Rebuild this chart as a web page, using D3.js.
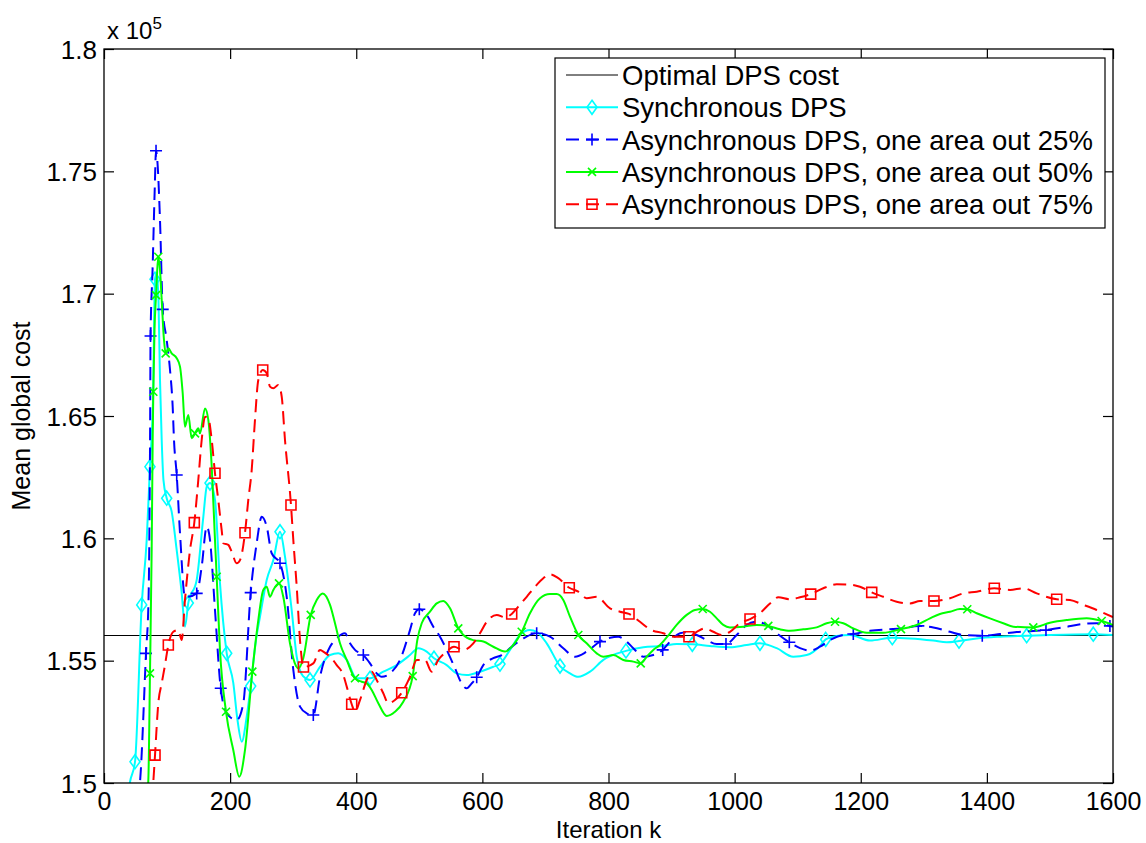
<!DOCTYPE html>
<html><head><meta charset="utf-8">
<script src="https://cdn.jsdelivr.net/npm/d3@7"></script>
<style>body{margin:0;background:#fff}svg{display:block}text{font-family:"Liberation Sans",Arial,Helvetica,sans-serif;fill:#000}</style>
</head><body>
<svg id="chart" width="1146" height="843"></svg>
<script>
// ---- data (cost in units of 1e5) ----
const iterTicks = [0,200,400,600,800,1000,1200,1400,1600];
const costTicks = [1.5,1.55,1.6,1.65,1.7,1.75,1.8];
const costTickLabels = ["1.5","1.55","1.6","1.65","1.7","1.75","1.8"];
const optimalCost = 1.5605;
const seriesNames = ["Optimal DPS cost","Synchronous DPS","Asynchronous DPS, one area out 25%","Asynchronous DPS, one area out 50%","Asynchronous DPS, one area out 75%"];

const syncData = [[38,1.4951],[41.2,1.5004],[49.2,1.5087],[59.8,1.5728],[67.7,1.5993],[72.9,1.6293],[77.7,1.6565],[80.9,1.7059],[83.6,1.7084],[86.4,1.6974],[88.8,1.6647],[91.5,1.6402],[94.3,1.6238],[99.4,1.6164],[107.3,1.6109],[115.3,1.5952],[123.2,1.5777],[128.4,1.5639],[133.7,1.5736],[147,1.5830],[157.5,1.6088],[162.9,1.6211],[168.1,1.6226],[176,1.6157],[183.9,1.5817],[194.6,1.5530],[205,1.5409],[211.7,1.5257],[218.4,1.5169],[226.3,1.5271],[232.6,1.5396],[241,1.5584],[247.4,1.5680],[258,1.5830],[268.5,1.5911],[279.1,1.6027],[287,1.5925],[297.6,1.5707],[305.6,1.5516],[315.6,1.5437],[326.7,1.5421],[342.5,1.5475],[358.4,1.5523],[371.5,1.5530],[384.9,1.5503],[400.7,1.5428],[421.8,1.5428],[442.9,1.5455],[464.1,1.5482],[485.2,1.5523],[498.4,1.5551],[511.7,1.5537],[523.3,1.5510],[543.4,1.5482],[559.3,1.5448],[575.1,1.5441],[596.2,1.5455],[617.3,1.5475],[627.9,1.5486],[643.8,1.5544],[659.7,1.5605],[675.5,1.5625],[686.1,1.5618],[702,1.5571],[723.1,1.5478],[738.9,1.5448],[752.1,1.5434],[770.7,1.5455],[791.8,1.5503],[827.7,1.5540],[855.2,1.5555],[886.9,1.5560],[908.1,1.5568],[932.9,1.5567],[960.9,1.5560],[992.6,1.5555],[1019.1,1.5564],[1040.2,1.5571],[1066.7,1.5551],[1093,1.5516],[1114.3,1.5523],[1135.4,1.5560],[1144.4,1.5587],[1161.8,1.5601],[1183,1.5605],[1214.7,1.5582],[1250,1.5594],[1278.1,1.5591],[1315,1.5582],[1336.3,1.5575],[1355.8,1.5580],[1383.9,1.5591],[1420.8,1.5598],[1463.1,1.5602],[1500,1.5605],[1568.7,1.5608],[1600,1.5605]];
const syncMarkerIters = [49.2,59.8,72.9,80.9,99.4,133.7,168.1,194.6,232.6,279.1,326.7,421.8,523.3,627.9,723.1,827.7,932.9,1040.2,1144.4,1250,1355.8,1463.1,1568.7];

const async25Data = [[53.9,1.4931],[57.1,1.5004],[66.6,1.5530],[70.6,1.5748],[72.4,1.6157],[73.2,1.6484],[73.8,1.6827],[77,1.7097],[80.4,1.7424],[82.5,1.7584],[84.5,1.7546],[88.8,1.7301],[93.1,1.6936],[99.4,1.6811],[104.7,1.6688],[108.9,1.6538],[111,1.6402],[115.3,1.6259],[120.5,1.6022],[128.4,1.5761],[132.1,1.5761],[147,1.5775],[154.9,1.5884],[162.9,1.6048],[168.1,1.5993],[176,1.5707],[185.1,1.5387],[194.6,1.5285],[210.4,1.5257],[220.9,1.5326],[232.6,1.5778],[242.1,1.5980],[250.1,1.6088],[258,1.6048],[265.9,1.5939],[279.1,1.5898],[289.7,1.5761],[300.2,1.5462],[310.8,1.5312],[321.4,1.5285],[331.9,1.5278],[342.5,1.5434],[358.4,1.5557],[366.3,1.5584],[382.2,1.5612],[390.1,1.5571],[398,1.5544],[411.2,1.5523],[421.8,1.5489],[432.4,1.5448],[440.4,1.5434],[453.5,1.5448],[469.4,1.5503],[485.2,1.5625],[493.2,1.5694],[500,1.5710],[511.7,1.5687],[522.2,1.5639],[532.8,1.5598],[546,1.5530],[556.6,1.5469],[567.2,1.5407],[575.1,1.5387],[583.1,1.5407],[591,1.5432],[601.5,1.5482],[617.3,1.5510],[630.6,1.5523],[646.5,1.5557],[664.9,1.5591],[686.1,1.5612],[707.2,1.5598],[728.3,1.5551],[746.9,1.5516],[765.4,1.5537],[786.5,1.5578],[802.4,1.5594],[815.5,1.5598],[826.2,1.5584],[839.3,1.5551],[855.2,1.5516],[871,1.5523],[885.9,1.5544],[897.5,1.5578],[913.4,1.5612],[926.5,1.5616],[939.9,1.5605],[955.7,1.5584],[971.6,1.5568],[986.3,1.5568],[1003.3,1.5605],[1019.1,1.5646],[1035,1.5659],[1050.8,1.5646],[1066.7,1.5612],[1086.7,1.5575],[1103.7,1.5551],[1119.5,1.5541],[1135.4,1.5557],[1151.2,1.5584],[1172.3,1.5605],[1188.2,1.5609],[1214.7,1.5622],[1241.1,1.5628],[1264.9,1.5631],[1291.3,1.5642],[1315,1.5636],[1341.5,1.5618],[1362.6,1.5605],[1392.7,1.5602],[1420.8,1.5609],[1447.3,1.5617],[1493.7,1.5625],[1521.2,1.5636],[1552.9,1.5650],[1574.1,1.5653],[1595.1,1.5642],[1600,1.5640]];
const async25MarkerIters = [66.6,73.8,82.5,93.1,115.3,147,185.1,232.6,279.1,331.9,411.2,500,591,686.1,786.5,885.9,986.3,1086.7,1188.2,1291.3,1392.7,1493.7,1595.1];

const async50Data = [[66.6,1.4931],[70.2,1.5005],[72.9,1.5448],[75.6,1.5952],[77.2,1.6402],[78.2,1.6599],[80.1,1.6851],[82.5,1.6994],[84,1.7076],[86.1,1.7151],[88.8,1.7097],[91.5,1.6974],[95.1,1.6811],[97.8,1.6756],[102,1.6777],[107.3,1.6756],[115.3,1.6736],[120.5,1.6702],[124.8,1.6593],[128.4,1.6456],[133.7,1.6504],[139.1,1.6409],[144.3,1.6429],[149.5,1.6450],[152.2,1.6429],[160.2,1.6531],[165.4,1.6484],[170.8,1.6293],[176,1.5993],[178.7,1.5843],[183.9,1.5544],[193.5,1.5291],[205,1.5135],[214.5,1.5026],[223.6,1.5135],[235.2,1.5455],[244.7,1.5666],[252.6,1.5789],[258,1.5802],[263.2,1.5761],[268.5,1.5789],[277.5,1.5816],[284.3,1.5761],[294.9,1.5571],[304.5,1.5478],[308.1,1.5469],[316,1.5510],[327.8,1.5687],[337.3,1.5748],[346.8,1.5775],[358.4,1.5728],[366.3,1.5653],[374.2,1.5571],[384.9,1.5503],[398,1.5428],[408.6,1.5414],[416.6,1.5407],[424.5,1.5380],[435,1.5326],[448.3,1.5274],[461.4,1.5291],[474.6,1.5332],[489.5,1.5437],[496.8,1.5584],[503.8,1.5653],[516.9,1.5700],[527.6,1.5734],[538,1.5744],[548.7,1.5714],[561.8,1.5632],[569.8,1.5605],[585.6,1.5584],[601.5,1.5578],[617.3,1.5557],[635.9,1.5537],[649,1.5564],[662.4,1.5618],[675.5,1.5694],[691.4,1.5755],[707.2,1.5772],[717.8,1.5772],[728.3,1.5748],[738.9,1.5680],[752.1,1.5605],[765.4,1.5571],[781.3,1.5530],[791.8,1.5516],[807.6,1.5523],[823.5,1.5503],[839.3,1.5496],[851.1,1.5489],[860.6,1.5516],[871,1.5544],[881.7,1.5564],[897.5,1.5612],[908.1,1.5646],[924,1.5687],[937.2,1.5707],[949.4,1.5711],[960.9,1.5700],[971.6,1.5673],[982,1.5646],[992.6,1.5636],[1013.7,1.5639],[1035,1.5646],[1053.4,1.5642],[1071.9,1.5628],[1087.8,1.5622],[1108.9,1.5628],[1130.1,1.5636],[1146,1.5653],[1159.2,1.5659],[1172.3,1.5653],[1188.2,1.5632],[1209.4,1.5614],[1235.8,1.5614],[1263.8,1.5629],[1288.7,1.5646],[1309.8,1.5673],[1325.6,1.5691],[1341.5,1.5700],[1357.3,1.5711],[1368.9,1.5710],[1383.9,1.5694],[1404.9,1.5673],[1426,1.5653],[1441.9,1.5639],[1473.6,1.5636],[1500,1.5655],[1526.6,1.5666],[1558.3,1.5673],[1582,1.5662],[1600,1.5646]];
const async50MarkerIters = [72.9,78.2,82.5,86.1,97.8,144.3,178.7,193.5,235.2,277.5,327.8,398,489.5,561.8,662.4,752.1,851.1,949.4,1053.4,1159.2,1263.8,1368.9,1473.6,1582];

const async75Data = [[76.1,1.4931],[78.2,1.5005],[80.9,1.5114],[86.1,1.5326],[91.5,1.5407],[96.7,1.5482],[102,1.5564],[109.9,1.5618],[117.8,1.5625],[123.2,1.5584],[128.4,1.5748],[136.4,1.5952],[143.2,1.6064],[149.5,1.6238],[154.9,1.6402],[160.2,1.6497],[165.4,1.6491],[170.8,1.6402],[176,1.6266],[181.2,1.6157],[186.6,1.6034],[189.2,1.5980],[197.1,1.5973],[202.5,1.5945],[210.4,1.5898],[215.7,1.5911],[223.6,1.6023],[228.8,1.6157],[234.2,1.6279],[239.4,1.6484],[244.7,1.6647],[251.7,1.6688],[258,1.6675],[263.2,1.6620],[268.5,1.6613],[276.4,1.6627],[281.8,1.6579],[287,1.6402],[296.5,1.6136],[300.2,1.5993],[305.6,1.5802],[310.8,1.5584],[316.3,1.5474],[331.9,1.5489],[342.5,1.5544],[347.7,1.5537],[358.4,1.5516],[369,1.5482],[379.5,1.5441],[384.9,1.5394],[392.8,1.5322],[398,1.5291],[405.9,1.5339],[416.6,1.5421],[424.5,1.5455],[432.4,1.5421],[442.9,1.5367],[450.8,1.5326],[461.4,1.5339],[472.1,1.5369],[485.2,1.5434],[495.9,1.5503],[509,1.5503],[519.6,1.5455],[530.1,1.5503],[542.3,1.5535],[555,1.5557],[569.8,1.5544],[585.6,1.5571],[596.2,1.5612],[606.9,1.5659],[622.7,1.5687],[635.9,1.5677],[646.5,1.5691],[657,1.5721],[670.3,1.5761],[683.4,1.5802],[696.6,1.5837],[707.2,1.5853],[720.4,1.5837],[737.8,1.5798],[752.1,1.5782],[765.4,1.5755],[781.3,1.5761],[802.4,1.5714],[818.2,1.5700],[832.5,1.5691],[849.9,1.5659],[865.8,1.5628],[886.9,1.5612],[902.7,1.5598],[927.6,1.5598],[939.9,1.5618],[953,1.5632],[966.2,1.5618],[979.5,1.5605],[992.6,1.5618],[1008.5,1.5653],[1024.4,1.5670],[1040.2,1.5694],[1056.1,1.5734],[1069.2,1.5759],[1087.8,1.5751],[1103.7,1.5759],[1120.6,1.5772],[1140.6,1.5796],[1161.8,1.5812],[1183,1.5811],[1198.8,1.5802],[1217.4,1.5779],[1235.8,1.5761],[1257,1.5741],[1278.1,1.5734],[1293.9,1.5744],[1316.1,1.5744],[1341.5,1.5755],[1362.6,1.5775],[1383.9,1.5782],[1411.8,1.5796],[1436.7,1.5789],[1457.8,1.5796],[1479,1.5775],[1510.7,1.5751],[1531.8,1.5748],[1552.9,1.5728],[1574.1,1.5707],[1600,1.5678]];
const async75MarkerIters = [80.9,102,143.2,176,223.6,251.7,296.5,316.3,392.8,472.1,555,646.5,737.8,832.5,927.6,1024.4,1120.6,1217.4,1316.1,1411.8,1510.7];

// ---- layout ----
const L = 104, R = 1113, T = 49, B = 783;
const svg = d3.select("#chart");
const x = d3.scaleLinear().domain([0,1600]).range([L,R]);
const y = d3.scaleLinear().domain([1.5,1.8]).range([B,T]);

svg.append("defs").append("clipPath").attr("id","clip")
  .append("rect").attr("x",L).attr("y",T).attr("width",R-L).attr("height",B-T);

const DASH = "13,7";
const series = [
  {data: syncData,   markers: syncMarkerIters,   color:"#00ffff", dash:null, marker:"diamond"},
  {data: async25Data,markers: async25MarkerIters,color:"#0000ff", dash:DASH, marker:"plus"},
  {data: async50Data,markers: async50MarkerIters,color:"#00ff00", dash:null, marker:"cross"},
  {data: async75Data,markers: async75MarkerIters,color:"#ff0000", dash:DASH, marker:"square"}
];

function markerPath(type){
  if(type==="diamond") return "M0,-7L5,0L0,7L-5,0Z";
  if(type==="plus") return "M-6,0H6M0,-6V6";
  if(type==="cross") return "M-4,-4L4,4M-4,4L4,-4";
  if(type==="square") return "M-5,-5H5V5H-5Z";
}

const plot = svg.append("g").attr("clip-path","url(#clip)");
const line = d3.line().x(d=>x(d[0])).y(d=>y(d[1])).curve(d3.curveMonotoneX);

// optimal line
plot.append("line").attr("x1",x(0)).attr("x2",x(1600)).attr("y1",Math.round(y(optimalCost))+0.5).attr("y2",Math.round(y(optimalCost))+0.5)
  .attr("stroke","#000").attr("stroke-width",1);

series.forEach(s=>{
  plot.append("path").datum(s.data).attr("d",line).attr("fill","none")
    .attr("stroke",s.color).attr("stroke-width",2).attr("stroke-dasharray",s.dash);
  const pts = s.markers.map(m=>s.data.reduce((a,b)=>Math.abs(b[0]-m)<Math.abs(a[0]-m)?b:a));
  plot.selectAll(null).data(pts).enter().append("path")
    .attr("transform",d=>`translate(${x(d[0])},${y(d[1])})`)
    .attr("d",markerPath(s.marker)).attr("fill","none").attr("stroke",s.color).attr("stroke-width",1.6);
});

// axes box
svg.append("rect").attr("x",L).attr("y",T).attr("width",R-L).attr("height",B-T)
  .attr("fill","none").attr("stroke","#000").attr("stroke-width",1.3);

const tl = 10;
const axB = svg.append("g").attr("transform",`translate(0,${B})`)
  .call(d3.axisBottom(x).tickValues(iterTicks).tickSize(-tl).tickFormat(d3.format("d")));
const axT = svg.append("g").attr("transform",`translate(0,${T})`)
  .call(d3.axisTop(x).tickValues(iterTicks).tickSize(-tl).tickFormat(""));
const axL = svg.append("g").attr("transform",`translate(${L},0)`)
  .call(d3.axisLeft(y).tickValues(costTicks).tickSize(-tl).tickFormat((d,i)=>costTickLabels[i]));
const axR = svg.append("g").attr("transform",`translate(${R},0)`)
  .call(d3.axisRight(y).tickValues(costTicks).tickSize(-tl).tickFormat(""));
[axB,axT,axL,axR].forEach(a=>{
  a.select(".domain").remove();
  a.selectAll(".tick line").attr("stroke","#000").attr("stroke-width",1.2);
});
axB.selectAll(".tick text").attr("font-size",25).attr("y",9).attr("dy","0.71em")
  .attr("font-family","Liberation Sans, Arial, sans-serif").attr("fill","#000");
axL.selectAll(".tick text").attr("font-size",26).attr("x",-7).attr("dy","0.35em")
  .attr("font-family","Liberation Sans, Arial, sans-serif").attr("fill","#000");

// exponent label
const ex = svg.append("text").attr("x",L+3).attr("y",T-10).attr("font-size",24);
ex.append("tspan").text("x 10");
ex.append("tspan").attr("font-size",17).attr("dy",-10).text("5");

// axis labels
svg.append("text").attr("x",(L+R)/2).attr("y",838).attr("text-anchor","middle").attr("font-size",24).text("Iteration k");
svg.append("text").attr("transform",`translate(30,${(T+B)/2}) rotate(-90)`).attr("text-anchor","middle").attr("font-size",25).text("Mean global cost");

// legend
const lg = svg.append("g");
const lx = 555, ly = 58, lw = 550, lh = 170;
lg.append("rect").attr("x",lx).attr("y",ly).attr("width",lw).attr("height",lh).attr("fill","#fff").attr("stroke","#000").attr("stroke-width",1.2);
const legendItems = [
  {color:"#000", dash:null, marker:null, w:1},
  {color:"#00ffff", dash:null, marker:"diamond", w:2},
  {color:"#0000ff", dash:DASH, marker:"plus", w:2},
  {color:"#00ff00", dash:null, marker:"cross", w:2},
  {color:"#ff0000", dash:DASH, marker:"square", w:2}
];
legendItems.forEach((it,i)=>{
  const cy = ly + 17 + i*32.3;
  lg.append("line").attr("x1",lx+11).attr("x2",lx+63).attr("y1",cy).attr("y2",cy)
    .attr("stroke",it.color).attr("stroke-width",it.w).attr("stroke-dasharray",it.dash);
  if(it.marker) lg.append("path").attr("transform",`translate(${lx+37},${cy})`).attr("d",markerPath(it.marker))
    .attr("fill","none").attr("stroke",it.color).attr("stroke-width",1.6);
  lg.append("text").attr("x",lx+67).attr("y",cy).attr("dy","0.36em").attr("font-size",27.5).text(seriesNames[i]);
});
</script>
</body></html>
